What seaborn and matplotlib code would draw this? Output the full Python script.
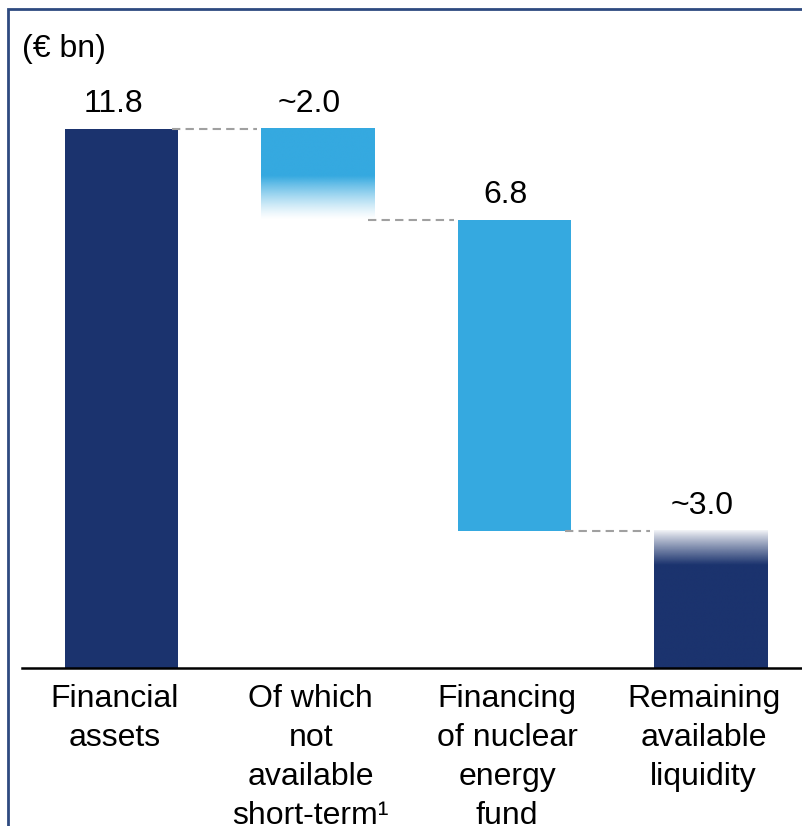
import numpy as np
import pandas as pd
import matplotlib
matplotlib.use("Agg")
import matplotlib.pyplot as plt
import matplotlib.transforms as mtransforms
from matplotlib.colors import to_rgb
from matplotlib.patches import Rectangle
import seaborn as sns

# ---------------- data ----------------
categories = ["Financial\nassets",
              "Of which\nnot\navailable\nshort-term\u00b9",
              "Financing\nof nuclear\nenergy\nfund",
              "Remaining\navailable\nliquidity"]
values = [11.8, 2.0, 6.8, 3.0]
steps = ["total", "decrease", "decrease", "total"]
value_labels = ["11.8", "~2.0", "6.8", "~3.0"]
unit_label = "(\u20ac bn)"

NAVY = "#1B336E"
LIGHT = "#35A9E0"
bar_colors = [NAVY, LIGHT, LIGHT, NAVY]

# waterfall geometry from the values
bottoms, heights, levels = [], [], []
level = 0.0
for v, s in zip(values, steps):
    if s == "total":
        bottoms.append(0.0); heights.append(v); level = v
    else:
        bottoms.append(level - v); heights.append(v); level = level - v
    levels.append(level)

df = pd.DataFrame({"category": categories, "height": heights})

# ---------------- style ----------------
sns.set_style("white")
plt.rcParams["font.family"] = ["Liberation Sans", "DejaVu Sans"]
plt.rcParams["text.color"] = "black"
plt.rcParams["xtick.color"] = "black"
FS = 23

fig = plt.figure(figsize=(8.03, 8.26), dpi=100)
W, H = 803, 826
ax = fig.add_axes([22 / W, (H - 668) / H, 1 - 22 / W, (668 - 9) / H])

bar_w = 0.5756
sns.barplot(data=df, x="category", y="height", order=categories,
            bottom=np.array(bottoms), width=bar_w, color=NAVY,
            errorbar=None, ax=ax, zorder=2, linewidth=0)

patches = list(ax.patches)
for p, c in zip(patches, bar_colors):
    p.set_facecolor(c)
    p.set_edgecolor("none")

def gradient_fill(p, color, alphas):
    x0, w = p.get_x(), p.get_width()
    y0, h = p.get_y(), p.get_height()
    rgb = to_rgb(color)
    n = len(alphas)
    img = np.zeros((n, 1, 4))
    img[:, 0, 0], img[:, 0, 1], img[:, 0, 2] = rgb
    img[:, 0, 3] = alphas
    p.set_facecolor("none")
    ax.imshow(img, extent=[x0, x0 + w, y0, y0 + h], origin="upper",
              aspect="auto", interpolation="bilinear", zorder=2)

N = 300
t = np.linspace(0, 1, N)  # 0 = top, 1 = bottom
# bar 2: solid top half, fading to white at the bottom
a2 = np.where(t < 0.52, 1.0, np.clip(1 - (t - 0.52) / 0.48, 0, 1) ** 1.3)
gradient_fill(patches[1], LIGHT, a2)
# bar 4: white at top fading into navy
a4 = np.where(t < 0.25, 0.05 + 0.95 * (t / 0.25) ** 0.9, 1.0)
gradient_fill(patches[3], NAVY, a4)

# connectors
px = 196.33
for i in range(len(patches) - 1):
    p, q = patches[i], patches[i + 1]
    xs = [p.get_x() + p.get_width() - 6 / px, q.get_x() - 4 / px]
    ax.plot(xs, [levels[i], levels[i]], color="#A0A0A0", lw=1.5,
            dashes=(4, 2.5), zorder=3)

# value labels
for p, lab in zip(patches, value_labels):
    top = p.get_y() + p.get_height()
    ax.annotate(lab, (p.get_x() + p.get_width() / 2, top),
                xytext=(-6, 12.5), textcoords="offset points",
                ha="center", va="baseline", fontsize=FS, color="black")

ax.set_xlim(-0.5068, 3.471)
ax.set_ylim(0, 659 / 45.68)
ax.set_yticks([])
ax.set_xlabel("")
ax.set_ylabel("")
ax.set_xticks(range(len(categories)))
ax.set_xticklabels(categories, fontsize=FS, linespacing=1.39,
                   ha="center", va="top", color="black")
ax.tick_params(axis="x", length=0, pad=11.5)
offset = mtransforms.ScaledTranslation(-7 / 100, 0, fig.dpi_scale_trans)
for lab in ax.get_xticklabels():
    lab.set_transform(lab.get_transform() + offset)

for s in ["top", "left", "right"]:
    ax.spines[s].set_visible(False)
ax.spines["bottom"].set_color("black")
ax.spines["bottom"].set_linewidth(1.8)
ax.patch.set_alpha(0)

fig.text(22 / W, 1 - 57 / H, unit_label, fontsize=FS, ha="left",
         va="baseline", color="black")

# frame around the chart (continues past right and bottom edges)
frame = Rectangle((8 / W, -0.2), 1.5, 1.2 - 9 / H, transform=fig.transFigure,
                  fill=False, edgecolor="#2E4A80", linewidth=2.0, zorder=10)
fig.add_artist(frame)

fig.savefig("out.png", dpi=100, facecolor="white")
